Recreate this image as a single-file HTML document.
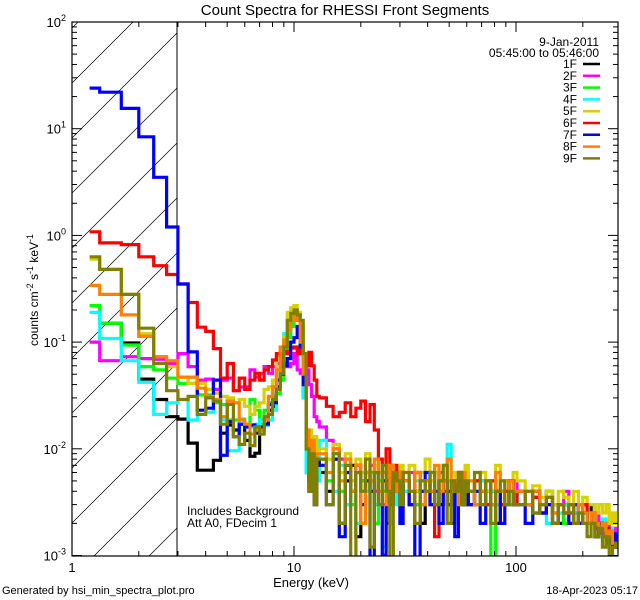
<!DOCTYPE html>
<html><head><meta charset="utf-8"><style>
html,body{margin:0;padding:0;background:#fff;width:640px;height:600px;overflow:hidden;}
svg{display:block;font-family:"Liberation Sans",sans-serif;}
</style></head><body>
<svg id="chart" width="640" height="600" viewBox="0 0 640 600" xmlns="http://www.w3.org/2000/svg">
<rect x="0" y="0" width="640" height="600" fill="#fff"/>
<defs><clipPath id="plotclip"><rect x="72" y="22" width="546" height="534"/></clipPath></defs>
<text x="345" y="15" font-size="15" text-anchor="middle">Count Spectra for RHESSI Front Segments</text>
<g id="hatch"></g>
<line x1="177" y1="22" x2="177" y2="556" stroke="#000" stroke-width="1"/>
<g id="series" clip-path="url(#plotclip)"></g>
<rect x="72" y="22" width="546" height="534" fill="none" stroke="#000" stroke-width="1.2"/>
<g id="axes"></g>
<text x="311" y="587" font-size="13" text-anchor="middle">Energy (keV)</text>
<text transform="translate(38,290) rotate(-90)" font-size="12" text-anchor="middle">counts cm<tspan dy="-5" font-size="9">-2</tspan><tspan dy="5"> s</tspan><tspan dy="-5" font-size="9">-1</tspan><tspan dy="5"> keV</tspan><tspan dy="-5" font-size="9">-1</tspan></text>
<text x="187" y="515" font-size="12">Includes Background</text>
<text x="187" y="527" font-size="12">Att A0, FDecim 1</text>
<text x="2" y="594" font-size="11">Generated by hsi_min_spectra_plot.pro</text>
<text x="638" y="594" font-size="11" text-anchor="end">18-Apr-2023 05:17</text>
<g id="legend">
<text x="599" y="46" font-size="12" text-anchor="end">9-Jan-2011</text>
<text x="599" y="57" font-size="12" text-anchor="end">05:45:00 to 05:46:00</text>
</g>
</svg>
<script>
const edges=[1.2,1.333,1.667,2,2.333,2.667,3,3.333,3.667,4,4.333,4.667,5,5.333,5.667,6,6.333,6.667,7,7.333,7.667,8,8.333,8.667,9,9.333,9.667,10,10.333,10.667,11,11.333,11.667,12,12.333,12.667,13,
14,15,16,17,18,19,20,21,22,23,24,25,26,27,28,29,30,31,
33,35,37,39,41,43,45,47,49,51,53,55,57,59,61,
65,69,73,77,81,85,89,93,97,101,
110,119,128,137,146,155,164,173,182,191,200,209,218,227,236,245,254,263,272,281,290];
const names=["1F","2F","3F","4F","5F","6F","7F","8F","9F"];
const colors=["#000000","#ff00ff","#00ff00","#00ffff","#d8d000","#ff0000","#0000ff","#ff8000","#808000"];
const s1F=[null,0.15,0.098,0.045,0.029,0.02,0.019,0.0113,0.0063,0.0063,0.0078,0.014,0.0167,0.015,0.017,0.012,0.0085,0.0091,0.015,0.0167,0.023,0.025,0.044,0.073,0.09,0.13,0.16,0.19,0.16,0.088,0.03,0.006,0.005,0.004,0.006,0.007,
6e-3,4e-3,8e-3,2e-3,5e-3,7e-3,1.5e-3,5e-3,6e-3,4e-3,3e-3,6e-3,5e-3,2e-3,5e-3,4e-3,6e-3,3e-3,
5e-3,3e-3,4e-3,2e-3,5e-3,4e-3,6e-3,3e-3,5e-3,4e-3,2e-3,5e-3,4e-3,3e-3,5e-3,
4e-3,3e-3,5e-3,3e-3,4e-3,2e-3,4e-3,3e-3,5e-3,3e-3,
4e-3,3e-3,3.5e-3,2.5e-3,4e-3,3e-3,2e-3,3e-3,2.5e-3,3e-3,2e-3,2.5e-3,2e-3,3e-3,1.5e-3,2e-3,2e-3,1.5e-3,1.8e-3,1.2e-3,1.5e-3];
const s2F=[0.1,0.067,0.073,0.07,0.069,0.063,0.078,0.059,0.044,0.045,0.036,0.044,0.046,0.035,0.038,0.038,0.055,0.047,0.051,0.059,0.051,0.059,0.063,0.073,0.063,0.059,0.063,0.078,0.055,0.051,0.078,0.055,0.04,0.031,0.02,0.018,
1.6e-2,1.2e-2,1e-2,8e-3,7e-3,5e-3,6e-3,4e-3,5e-3,7e-3,4e-3,5e-3,3e-3,6e-3,4e-3,5e-3,4e-3,6e-3,
4e-3,6e-3,3e-3,5e-3,4e-3,5e-3,3e-3,6e-3,4e-3,5e-3,4e-3,3e-3,5e-3,4e-3,6e-3,
4e-3,5e-3,3e-3,4e-3,5e-3,3e-3,4e-3,4e-3,3e-3,5e-3,
4e-3,3e-3,4e-3,3e-3,3.5e-3,2.5e-3,3e-3,4e-3,2.5e-3,3e-3,2e-3,3e-3,2.5e-3,2e-3,2.5e-3,2e-3,1.8e-3,2e-3,1.5e-3,1.8e-3,1.4e-3];
const s3F=[0.22,0.15,0.094,0.059,0.055,0.046,0.041,0.041,0.032,0.032,0.027,0.026,0.0186,0.0186,0.019,0.017,0.029,0.023,0.017,0.023,0.027,0.031,0.033,0.044,0.078,0.11,0.14,0.19,0.18,0.14,0.04,0.012,0.012,0.006,0.009,0.005,
8e-3,5e-3,9e-3,4e-3,6e-3,3e-3,7e-3,5e-3,4e-3,6e-3,2e-3,5e-3,4e-3,6e-3,3e-3,5e-3,4e-3,3e-3,
5e-3,4e-3,3e-3,5e-3,4e-3,6e-3,3e-3,4e-3,5e-3,3e-3,4e-3,5e-3,3e-3,4e-3,5e-3,
3e-3,5e-3,4e-3,3e-3,0.6e-3,4e-3,3e-3,5e-3,3e-3,4e-3,
3e-3,4e-3,2.5e-3,3e-3,4e-3,2.5e-3,3e-3,2e-3,3e-3,2.5e-3,2e-3,3e-3,2e-3,2.5e-3,2e-3,1.8e-3,2e-3,1.5e-3,1.6e-3,1.3e-3,1.5e-3];
const s4F=[0.19,0.108,0.067,0.042,0.021,0.027,0.029,0.0186,0.021,0.022,0.029,0.0186,0.0096,0.0096,0.0186,0.016,0.016,0.017,0.0186,0.0167,0.0186,0.023,0.038,0.078,0.12,0.15,0.19,0.2,0.16,0.078,0.03,0.006,0.007,0.004,0.006,0.005,
1.2e-2,6e-3,4e-3,7e-3,3e-3,5e-3,2e-3,6e-3,4e-3,5e-3,3e-3,6e-3,1.2e-3,5e-3,4e-3,6e-3,3e-3,5e-3,
4e-3,3e-3,5e-3,3e-3,4e-3,6e-3,3e-3,5e-3,4e-3,1.1e-2,5e-3,3e-3,4e-3,5e-3,3e-3,
4e-3,3e-3,5e-3,3e-3,4e-3,3e-3,5e-3,3e-3,4e-3,3e-3,
3e-3,4e-3,2.5e-3,3e-3,2e-3,3e-3,2.5e-3,3e-3,2e-3,2.5e-3,3e-3,2e-3,2.5e-3,2e-3,1.8e-3,2e-3,2.2e-3,1.6e-3,1.8e-3,1.4e-3,1.3e-3];
const s5F=[0.6,0.48,0.28,0.12,0.073,0.059,0.047,0.041,0.041,0.036,0.033,0.031,0.03,0.027,0.029,0.025,0.021,0.025,0.027,0.036,0.038,0.044,0.073,0.078,0.11,0.19,0.21,0.22,0.19,0.11,0.04,0.015,0.015,0.01,0.013,0.009,
1e-2,8e-3,1.1e-2,6e-3,9e-3,5e-3,8e-3,6e-3,9e-3,5e-3,7e-3,6e-3,8e-3,5e-3,7e-3,5e-3,6e-3,7e-3,
5e-3,7e-3,4e-3,6e-3,8e-3,5e-3,6e-3,4e-3,7e-3,5e-3,6e-3,4e-3,6e-3,5e-3,7e-3,
5e-3,4e-3,6e-3,4e-3,5e-3,7e-3,4e-3,5e-3,4e-3,6e-3,
5e-3,4e-3,4.5e-3,3.5e-3,4e-3,3e-3,4e-3,3.5e-3,3e-3,4e-3,3e-3,3.5e-3,3e-3,3e-3,2.5e-3,3e-3,2.5e-3,3e-3,2e-3,2.5e-3,2e-3];
const s6F=[1.08,0.85,0.82,0.63,0.52,0.43,0.35,0.235,0.138,0.126,0.087,0.046,0.063,0.035,0.046,0.036,0.044,0.051,0.044,0.055,0.059,0.068,0.078,0.059,0.082,0.078,0.088,0.09,0.078,0.085,0.07,0.06,0.08,0.06,0.044,0.031,
3e-2,2.5e-2,2e-2,2.2e-2,2.7e-2,2e-2,2.4e-2,2.8e-2,1.8e-2,2.6e-2,1.5e-2,8e-3,6e-3,1e-2,5e-3,7e-3,4e-3,6e-3,
5e-3,3e-3,6e-3,4e-3,5e-3,3e-3,1.5e-3,5e-3,4e-3,3e-3,5e-3,4e-3,6e-3,3e-3,4e-3,
3e-3,5e-3,4e-3,3e-3,5e-3,4e-3,3e-3,4e-3,5e-3,3e-3,
4e-3,3e-3,3.5e-3,2.5e-3,3e-3,2e-3,3e-3,2.5e-3,3e-3,2e-3,2.5e-3,3e-3,2e-3,2.5e-3,1.8e-3,2e-3,1.6e-3,1.8e-3,1.4e-3,1.3e-3,1.5e-3];
const s7F=[24,22,15.5,8.4,3.5,1.2,0.35,0.081,0.023,0.024,0.044,0.0087,0.018,0.013,0.017,0.016,0.0167,0.014,0.016,0.017,0.026,0.027,0.038,0.05,0.06,0.07,0.1,0.11,0.14,0.09,0.04,0.01,0.004,0.006,0.003,0.008,
7e-3,3e-3,8e-3,1.5e-3,6e-3,4e-3,7e-3,3e-3,5e-3,0.8e-3,6e-3,4e-3,1e-3,5e-3,3e-3,6e-3,4e-3,2e-3,
5e-3,3e-3,0.9e-3,4e-3,6e-3,3e-3,4e-3,2e-3,5e-3,3e-3,4e-3,1.5e-3,5e-3,3e-3,4e-3,
3e-3,4e-3,2e-3,5e-3,3e-3,4e-3,2e-3,3e-3,5e-3,3e-3,
3e-3,2e-3,4e-3,2.5e-3,3e-3,2e-3,3e-3,2.5e-3,2e-3,3e-3,2e-3,2.5e-3,2e-3,2e-3,1.5e-3,2e-3,1.6e-3,1.5e-3,1.3e-3,1.6e-3,1.2e-3];
const s8F=[0.34,0.28,0.18,0.113,0.073,0.067,0.047,0.047,0.037,0.031,0.029,0.02,0.028,0.027,0.0186,0.017,0.0137,0.015,0.015,0.0186,0.031,0.038,0.055,0.09,0.105,0.13,0.16,0.19,0.16,0.1,0.05,0.015,0.008,0.012,0.006,0.009,
9e-3,6e-3,1e-2,5e-3,8e-3,4e-3,7e-3,2e-3,6e-3,5e-3,8e-3,4e-3,6e-3,3e-3,7e-3,5e-3,4e-3,6e-3,
5e-3,4e-3,6e-3,3e-3,5e-3,4e-3,7e-3,4e-3,5e-3,8e-3,4e-3,5e-3,3e-3,6e-3,4e-3,
5e-3,3e-3,4e-3,5e-3,3e-3,6e-3,4e-3,3e-3,5e-3,4e-3,
4e-3,3e-3,4e-3,3e-3,3.5e-3,2.5e-3,3e-3,2.5e-3,3e-3,2e-3,3e-3,2.5e-3,2e-3,2.5e-3,2e-3,1.8e-3,2e-3,1.5e-3,1.7e-3,1.3e-3,1.2e-3];
const s9F=[0.63,0.48,0.28,0.135,0.063,0.035,0.029,0.031,0.021,0.03,0.028,0.017,0.026,0.013,0.011,0.014,0.0107,0.016,0.0137,0.02,0.021,0.029,0.036,0.051,0.09,0.16,0.186,0.2,0.18,0.16,0.078,0.01,0.004,0.009,0.003,0.008,
8e-3,3e-3,9e-3,2e-3,7e-3,0.8e-3,6e-3,4e-3,8e-3,1.2e-3,6e-3,3e-3,7e-3,4e-3,0.9e-3,6e-3,5e-3,3e-3,
6e-3,4e-3,2e-3,5e-3,4e-3,6e-3,3e-3,5e-3,7e-3,2e-3,5e-3,4e-3,6e-3,3e-3,5e-3,
4e-3,6e-3,3e-3,5e-3,2e-3,4e-3,5e-3,3e-3,4e-3,3e-3,
3e-3,4e-3,2.5e-3,3e-3,3.5e-3,2e-3,3e-3,2.5e-3,3e-3,2e-3,2.5e-3,2e-3,1.5e-3,2e-3,1.5e-3,1.8e-3,1.2e-3,1.5e-3,1e-3,1.2e-3,1.3e-3];
const seriesData=[s1F,s2F,s3F,s4F,s5F,s6F,s7F,s8F,s9F];
const xTickLabels=["1","10","100"];
const yTickExps=["-3","-2","-1","0","1","2"];

const NS="http://www.w3.org/2000/svg";
const X0=72,XDEC=222,Y0=22,YDEC=106.7;
function xs(e){return X0+XDEC*Math.log10(e);}
function ys(v){return Y0+(2-Math.log10(v))*YDEC;}
function mk(tag,attrs,parent){const el=document.createElementNS(NS,tag);for(const k in attrs)el.setAttribute(k,attrs[k]);parent.appendChild(el);return el;}

// hatch lines clipped analytically to the box x 72..177, y 22..556
const hatch=document.getElementById('hatch');
for(let y0=83-55*2;y0<=556+105;y0+=55){
  const xa=Math.max(72,72+(y0-556)), xb=Math.min(177,72+(y0-22));
  if(xb<=xa)continue;
  const l=mk('line',{x1:xa,y1:y0-(xa-72),x2:xb,y2:y0-(xb-72),stroke:'#000','stroke-width':0.7},hatch);
  
  
}

const sg=document.getElementById('series');
seriesData.forEach((vals,i)=>{
  let d='',open=false;
  for(let k=0;k<vals.length&&k+1<edges.length;k++){
    const v=vals[k];
    if(v==null){open=false;continue;}
    const yv=Math.min(ys(Math.max(v,1e-4)),560);
    if(!open){d+='M'+xs(edges[k]).toFixed(1)+','+yv.toFixed(1);open=true;}
    else d+='V'+yv.toFixed(1);
    d+='H'+xs(edges[k+1]).toFixed(1);
  }
  const p=mk('path',{d:d,fill:'none',stroke:colors[i],'stroke-width':3.2,'stroke-linejoin':'miter'},sg);
  
  
});

const ax=document.getElementById('axes');
for(let dec=0;dec<3;dec++){
  for(let m=1;m<10;m++){
    const e=m*Math.pow(10,dec); if(e>290)break;
    const x=xs(e),len=m===1?10:5;
    const t1=mk('line',{x1:x,y1:556,x2:x,y2:556-len,stroke:'#000','stroke-width':1},ax);
    
    
    const t2=mk('line',{x1:x,y1:22,x2:x,y2:22+len,stroke:'#000','stroke-width':1},ax);
    
    
  }
}
xTickLabels.forEach((lab)=>{
  const t=mk('text',{x:xs(parseFloat(lab)),y:572,'font-size':13,'text-anchor':'middle'},ax);
  t.textContent=lab;
  
  
});
yTickExps.forEach((ex)=>{
  const p=parseInt(ex);
  for(let m=1;m<10;m++){
    const v=m*Math.pow(10,p); if(v>100.01)break;
    const y=ys(v),len=m===1?10:5;
    const a=mk('line',{x1:72,y1:y,x2:72+len,y2:y,stroke:'#000','stroke-width':1},ax);
    
    
    const b=mk('line',{x1:618,y1:y,x2:618-len,y2:y,stroke:'#000','stroke-width':1},ax);
    
    
  }
  const t=mk('text',{x:66,y:ys(Math.pow(10,p))+5,'font-size':13,'text-anchor':'end'},ax);
  
  
  t.innerHTML='10<tspan dy="-6" font-size="9">'+ex+'</tspan>';
});

const lg=document.getElementById('legend');
names.forEach((n,i)=>{
  const y=64+i*11.8;
  const t=mk('text',{x:577,y:y+4,'font-size':12,'text-anchor':'end'},lg);
  t.textContent=n;
  
  
  const l=mk('line',{x1:583,y1:y,x2:600,y2:y,stroke:colors[i],'stroke-width':2.5},lg);
  
  
});
</script>
</body></html>
